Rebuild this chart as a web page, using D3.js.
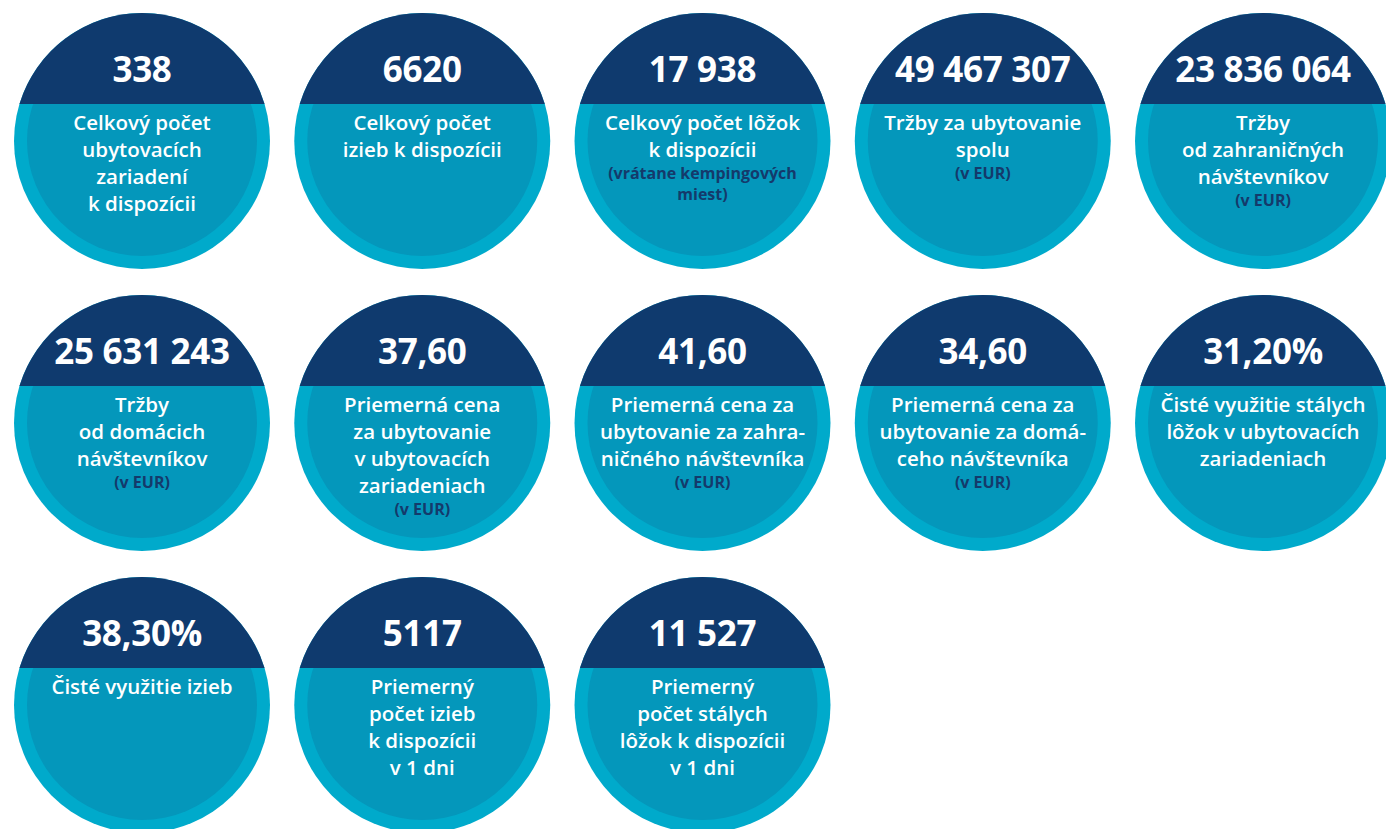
<!DOCTYPE html>
<html>
<head>
<meta charset="utf-8">
<script src="https://cdn.jsdelivr.net/npm/d3@7"></script>
<style>
  html, body { margin: 0; padding: 0; background: #fff; }
  svg { display: block; }
  text { font-family: "Open Sans", "DejaVu Sans", sans-serif; }
</style>
</head>
<body>
<svg id="chart"></svg>
<script>
const WIDTH = 1386;
const HEIGHT = 829;

// values shown in the dark cap of each circle
const values = [
  "338", "6620", "17 938", "49 467 307", "23 836 064",
  "25 631 243", "37,60", "41,60", "34,60", "31,20%",
  "38,30%", "5117", "11 527"
];

// white description lines
const labels = [
  ["Celkový počet", "ubytovacích", "zariadení", "k dispozícii"],
  ["Celkový počet", "izieb k dispozícii"],
  ["Celkový počet lôžok", "k dispozícii"],
  ["Tržby za ubytovanie", "spolu"],
  ["Tržby", "od zahraničných", "návštevníkov"],
  ["Tržby", "od domácich", "návštevníkov"],
  ["Priemerná cena", "za ubytovanie", "v ubytovacích", "zariadeniach"],
  ["Priemerná cena za", "ubytovanie za zahra-", "ničného návštevníka"],
  ["Priemerná cena za", "ubytovanie za domá-", "ceho návštevníka"],
  ["Čisté využitie stálych", "lôžok v ubytovacích", "zariadeniach"],
  ["Čisté využitie izieb"],
  ["Priemerný", "počet izieb", "k dispozícii", "v 1 dni"],
  ["Priemerný", "počet stálych", "lôžok k dispozícii", "v 1 dni"]
];

// small dark notes under the description
const notes = [
  [], [], ["(vrátane kempingových", "miest)"], ["(v EUR)"], ["(v EUR)"],
  ["(v EUR)"], ["(v EUR)"], ["(v EUR)"], ["(v EUR)"], [],
  [], [], []
];

const COLS = 5;
const R = 128;      // outer ring
const R_IN = 115;   // inner disc
const CAP = 37;     // cap edge above centre

const colors = { ring: "#00aacb", inner: "#0497bb", cap: "#0f3a6e", note: "#143a6b" };

const items = values.map((v, i) => ({
  value: v, lines: labels[i], notes: notes[i],
  col: i % COLS, row: Math.floor(i / COLS)
}));

const x = d3.scalePoint().domain(d3.range(COLS)).range([142, 1263]);
const y = d3.scalePoint().domain(d3.range(3)).range([141, 705]);

const svg = d3.select("#chart").attr("width", WIDTH).attr("height", HEIGHT);

const g = svg.selectAll("g.stat")
  .data(items)
  .enter()
  .append("g")
  .attr("class", "stat")
  .attr("transform", d => `translate(${x(d.col)},${y(d.row)})`);

g.append("circle").attr("r", R).attr("fill", colors.ring);
g.append("circle").attr("r", R_IN).attr("fill", colors.inner);

// dark segment on top of the circle
const half = Math.sqrt(R * R - CAP * CAP);
g.append("path")
  .attr("d", `M${-half},${-CAP}A${R},${R} 0 0 1 ${half},${-CAP}Z`)
  .attr("fill", colors.cap);

g.append("text")
  .attr("y", -59)
  .attr("text-anchor", "middle")
  .attr("fill", "#fff")
  .attr("font-size", 35)
  .attr("font-weight", 700)
  .attr("letter-spacing", -0.3)
  .text(d => d.value);

g.each(function (d) {
  const el = d3.select(this);
  d.lines.forEach((line, k) => {
    el.append("text")
      .attr("y", -11 + k * 27)
      .attr("text-anchor", "middle")
      .attr("fill", "#fff")
      .attr("font-size", 20.5)
      .attr("font-weight", 600)
      .text(line);
  });
  const base = -11 + (d.lines.length - 1) * 27;
  d.notes.forEach((line, k) => {
    el.append("text")
      .attr("y", base + 22 + k * 21)
      .attr("text-anchor", "middle")
      .attr("fill", colors.note)
      .attr("font-size", 16)
      .attr("font-weight", 700)
      .text(line);
  });
});
</script>
</body>
</html>
